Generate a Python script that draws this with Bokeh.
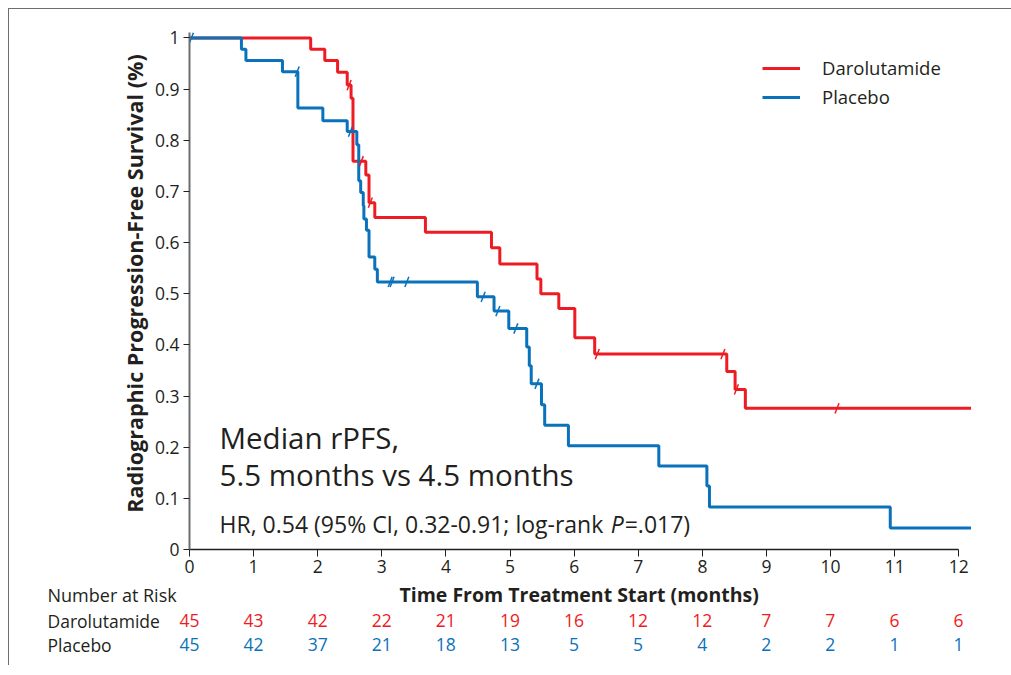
import numpy as np
from bokeh.plotting import figure
from bokeh.models import (Range1d, FixedTicker, Label, Legend, LegendItem)
from bokeh.core.properties import value
from bokeh.layouts import column
from bokeh.embed import file_html
from bokeh.resources import INLINE

# ---------------- data ----------------
dar_times = [0, 1.89, 2.11, 2.31, 2.46, 2.52, 2.55, 2.75, 2.80, 2.89, 3.68, 4.71, 4.84,
             5.42, 5.48, 5.76, 6.01, 6.32, 8.38, 8.51, 8.67, 12.19]
dar_surv = [1.0, 0.978, 0.956, 0.933, 0.908, 0.882, 0.759, 0.732, 0.678, 0.649, 0.620,
            0.590, 0.558, 0.529, 0.500, 0.471, 0.414, 0.382, 0.348, 0.313, 0.276, 0.276]
dar_censor = [2.49, 2.68, 2.82, 6.36, 8.32, 8.53, 10.1]

pla_times = [0, 0.81, 0.88, 1.45, 1.69, 2.08, 2.46, 2.61, 2.64, 2.67, 2.71, 2.72, 2.76,
             2.80, 2.89, 2.93, 4.49, 4.75, 4.98, 5.26, 5.30, 5.33, 5.49, 5.54, 5.91,
             7.32, 8.07, 8.11, 10.93, 12.19]
pla_surv = [1.0, 0.978, 0.956, 0.934, 0.863, 0.838, 0.817, 0.791, 0.721, 0.698, 0.672,
            0.646, 0.624, 0.572, 0.548, 0.523, 0.494, 0.466, 0.432, 0.396, 0.359, 0.324,
            0.283, 0.243, 0.203, 0.163, 0.124, 0.083, 0.042, 0.042]
pla_censor = [0.03, 1.68, 2.51, 3.13, 3.16, 3.39, 4.58, 4.81, 5.09, 5.42]

risk_times = [0, 1, 2, 3, 4, 5, 6, 7, 8, 9, 10, 11, 12]
risk_dar = [45, 43, 42, 22, 21, 19, 16, 12, 12, 7, 7, 6, 6]
risk_pla = [45, 42, 37, 21, 18, 13, 5, 5, 4, 2, 2, 1, 1]

y_ticks = [0, 0.1, 0.2, 0.3, 0.4, 0.5, 0.6, 0.7, 0.8, 0.9, 1]
y_tick_labels = ["0", "0.1", "0.2", "0.3", "0.4", "0.5", "0.6", "0.7", "0.8", "0.9", "1"]
x_ticks = [0, 1, 2, 3, 4, 5, 6, 7, 8, 9, 10, 11, 12]

RED = "#ED1C24"
BLUE = "#0A72BA"
FONT = "Open Sans"
TXT = "#231F20"

# page geometry (pixels): time 0 at x=189, 64.08 px per month; survival 0 at y=549
PX_PER_MONTH = 64.08


def px2x(px):
    return (px - 189) / PX_PER_MONTH


def px2y(py):
    return (549 - py) / 512


# ---------------- main figure ----------------
p = figure(width=1002, height=573, output_backend="svg", toolbar_location=None,
           x_range=Range1d(0, 12.4), y_range=Range1d(0, 1.04),
           min_border_left=180, min_border_right=27, min_border_top=8,
           min_border_bottom=33)
p.outline_line_color = None
p.grid.visible = False

xa = p.xaxis[0]
xa.ticker = FixedTicker(ticks=x_ticks)
xa.bounds = (0, 12)
xa.axis_line_color = "#231F20"
xa.axis_line_width = 1.5
xa.major_tick_line_color = "#231F20"
xa.major_tick_in = 0
xa.major_tick_out = 7
xa.minor_tick_line_color = None
xa.major_label_text_font = FONT
xa.major_label_text_font_size = "17.5px"
xa.major_label_text_color = TXT
xa.major_label_standoff = 3

ya = p.yaxis[0]
ya.ticker = FixedTicker(ticks=y_ticks)
ya.major_label_overrides = {t: s for t, s in zip(y_ticks, y_tick_labels)}
ya.bounds = (0, 1.01)
ya.axis_line_color = "#6D6E71"
ya.axis_line_width = 2
ya.major_tick_line_color = "#231F20"
ya.major_tick_in = 0
ya.major_tick_out = 6
ya.minor_tick_line_color = None
ya.major_label_text_font = FONT
ya.major_label_text_font_size = "17.5px"
ya.major_label_text_color = TXT
ya.major_label_standoff = 4
ya.axis_label = "Radiographic Progression-Free Survival (%)"
ya.axis_label_text_font = FONT
ya.axis_label_text_font_style = "bold"
ya.axis_label_text_font_size = "21.5px"
ya.axis_label_text_color = TXT
ya.axis_label_standoff = 3

r_dar = p.step(dar_times, dar_surv, mode="after", line_color=RED, line_width=3)
r_pla = p.step(pla_times, pla_surv, mode="after", line_color=BLUE, line_width=3)


def at(times, surv, c):
    idx = np.searchsorted(np.array(times), np.array(c), side="right") - 1
    return list(np.array(surv)[idx])


p.scatter(dar_censor, at(dar_times, dar_surv, dar_censor), marker="dash", size=11,
          angle=1.2, line_color=RED, line_width=1.5)
p.scatter(pla_censor, at(pla_times, pla_surv, pla_censor), marker="dash", size=11,
          angle=1.2, line_color=BLUE, line_width=1.5)

legend = Legend(items=[LegendItem(label="Darolutamide", renderers=[r_dar]),
                       LegendItem(label="Placebo", renderers=[r_pla])],
                location=(573, 440), orientation="vertical",
                glyph_width=38, glyph_height=20, label_height=20, spacing=4,
                label_standoff=22, padding=0, margin=0,
                border_line_color=None, background_fill_alpha=0,
                label_text_font=FONT, label_text_font_size="18.5px",
                label_text_color=TXT)
p.add_layout(legend)

p.add_layout(Label(x=px2x(219), y=px2y(437), text="Median rPFS,", text_font=FONT,
                   text_font_size="29.5px", text_color=TXT, text_baseline="middle"))
p.add_layout(Label(x=px2x(219), y=px2y(474), text="5.5 months vs 4.5 months",
                   text_font=FONT, text_font_size="29.5px", text_color=TXT,
                   text_baseline="middle"))
p.add_layout(Label(x=px2x(219), y=px2y(523), text="HR, 0.54 (95% CI, 0.32-0.91; log-rank",
                   text_font=FONT, text_font_size="23px", text_color=TXT,
                   text_baseline="middle"))
p.add_layout(Label(x=px2x(610), y=px2y(523), text="P", text_font=FONT,
                   text_font_style="italic", text_font_size="23px", text_color=TXT,
                   text_baseline="middle"))
p.add_layout(Label(x=px2x(624), y=px2y(523), text="=.017)", text_font=FONT,
                   text_font_size="23px", text_color=TXT, text_baseline="middle"))

# ---------------- risk table figure ----------------
# canvas spans page x 9..1011, page y 582..665; same month scale as the main plot
t = figure(width=1002, height=83, output_backend="svg", toolbar_location=None,
           x_range=Range1d(px2x(9), px2x(1011)), y_range=Range1d(83, 0),
           min_border_left=0, min_border_right=0, min_border_top=0, min_border_bottom=0)
t.axis.visible = False
t.grid.visible = False
t.outline_line_color = None

ROW_Y = {"head": 594 - 582, "dar": 620 - 582, "pla": 644 - 582}

t.text(x=[6.08], y=[ROW_Y["head"]], text=["Time From Treatment Start (months)"],
       text_font=value(FONT), text_font_style="bold", text_font_size="19.5px",
       text_color=TXT, text_align="center", text_baseline="middle")
t.text(x=[px2x(47)], y=[ROW_Y["head"]], text=["Number at Risk"],
       text_font=value(FONT), text_font_size="18px", text_color=TXT,
       text_align="left", text_baseline="middle")
t.text(x=[px2x(47)] * 2, y=[ROW_Y["dar"], ROW_Y["pla"]],
       text=["Darolutamide", "Placebo"],
       text_font=value(FONT), text_font_size="17.5px", text_color=TXT,
       text_align="left", text_baseline="middle")
t.text(x=risk_times, y=[ROW_Y["dar"]] * len(risk_times), text=[str(v) for v in risk_dar],
       text_font=value(FONT), text_font_size="17.5px", text_color=RED,
       text_align="center", text_baseline="middle")
t.text(x=risk_times, y=[ROW_Y["pla"]] * len(risk_times), text=[str(v) for v in risk_pla],
       text_font=value(FONT), text_font_size="17.5px", text_color=BLUE,
       text_align="center", text_baseline="middle")

root1 = column(p, styles={"margin-left": "8px", "margin-top": "8px",
                          "border-left": "1px solid #6D6E71",
                          "border-top": "1px solid #6D6E71"})
root2 = column(t, styles={"margin-left": "8px",
                          "border-left": "1px solid #6D6E71"})

open("out.html", "w").write(file_html([root1, root2], INLINE))
